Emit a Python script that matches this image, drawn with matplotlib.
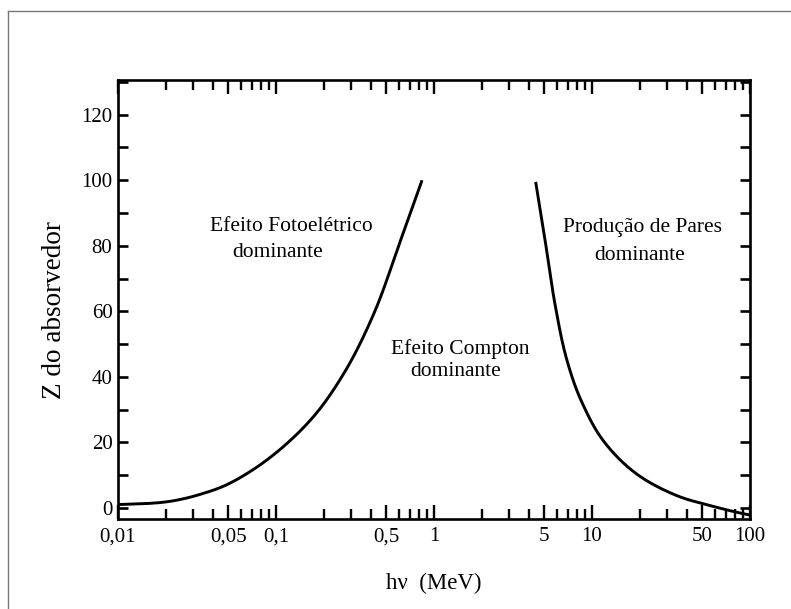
import matplotlib
matplotlib.use("Agg")
import matplotlib.pyplot as plt
import numpy as np
from matplotlib.ticker import FixedLocator, LogLocator, NullFormatter, MultipleLocator

# Data
pe_energy = [0.01, 0.015, 0.02, 0.025, 0.033, 0.049, 0.088, 0.166, 0.27, 0.418, 0.617, 0.84]
pe_z      = [1.0, 1.3, 1.8, 2.6, 4.1, 7.1, 14.7, 26.9, 41.2, 59.5, 81.9, 100.0]

pp_energy = [4.4, 5.0, 5.8, 6.9, 8.6, 12.0, 19.6, 35.0, 57.0, 80.0, 100.0]
pp_z      = [99.5, 83.0, 62.8, 45.5, 32.4, 20.0, 10.0, 3.6, 0.6, -1.2, -2.2]

x_ticks = [0.01, 0.05, 0.1, 0.5, 1, 5, 10, 50, 100]
x_tick_labels = ["0,01", "0,05", "0,1", "0,5", "1", "5", "10", "50", "100"]
y_ticks = [0, 20, 40, 60, 80, 100, 120]

labels = [
    ("Efeito Fotoelétrico", 0.274, 0.667),
    ("dominante", 0.252, 0.606),
    ("Efeito Compton", 0.541, 0.387),
    ("dominante", 0.535, 0.335),
    ("Produção de Pares", 0.830, 0.663),
    ("dominante", 0.826, 0.601),
]

plt.rcParams['font.family'] = ['Liberation Serif', 'DejaVu Serif']

fig = plt.figure(figsize=(7.91, 6.09), dpi=100)
ax = fig.add_axes([118/791, 1-519/609, 632/791, 439/609])


def smooth(xs, ys, n=40):
    """Centripetal Catmull-Rom through the read points (log-x, normalised)."""
    px = np.log10(xs) / 4.0
    py = np.asarray(ys, float) / 130.0
    P = np.column_stack([px, py])
    P = np.vstack([2 * P[0] - P[1], P, 2 * P[-1] - P[-2]])
    out = []
    for i in range(1, len(P) - 2):
        p0, p1, p2, p3 = P[i - 1], P[i], P[i + 1], P[i + 2]
        def tj(ti, a, b):
            return ti + np.linalg.norm(b - a) ** 0.5
        t0 = 0.0
        t1 = tj(t0, p0, p1)
        t2 = tj(t1, p1, p2)
        t3 = tj(t2, p2, p3)
        for t in np.linspace(t1, t2, n, endpoint=False):
            a1 = (t1 - t) / (t1 - t0) * p0 + (t - t0) / (t1 - t0) * p1
            a2 = (t2 - t) / (t2 - t1) * p1 + (t - t1) / (t2 - t1) * p2
            a3 = (t3 - t) / (t3 - t2) * p2 + (t - t2) / (t3 - t2) * p3
            b1 = (t2 - t) / (t2 - t0) * a1 + (t - t0) / (t2 - t0) * a2
            b2 = (t3 - t) / (t3 - t1) * a2 + (t - t1) / (t3 - t1) * a3
            c = (t2 - t) / (t2 - t1) * b1 + (t - t1) / (t2 - t1) * b2
            out.append(c)
    out.append(P[-2])
    out = np.array(out)
    return 10 ** (out[:, 0] * 4.0), out[:, 1] * 130.0


x1, y1 = smooth(pe_energy, pe_z)
x2, y2 = smooth(pp_energy, pp_z)
ax.plot(x1, y1, color='black', lw=2.1, solid_capstyle='butt')
ax.plot(x2, y2, color='black', lw=2.1, solid_capstyle='butt')

ax.set_xscale('log')
ax.set_xlim(0.01, 100)
ax.set_ylim(-3.4, 130.6)

ax.xaxis.set_major_locator(FixedLocator(x_ticks))
ax.set_xticklabels(x_tick_labels)
ax.xaxis.set_minor_locator(LogLocator(base=10, subs=np.arange(2, 10)))
ax.xaxis.set_minor_formatter(NullFormatter())
ax.yaxis.set_major_locator(FixedLocator(y_ticks))
ax.yaxis.set_minor_locator(MultipleLocator(10))

for s in ax.spines.values():
    s.set_linewidth(1.9)

ax.tick_params(axis='both', which='both', direction='in', top=True, right=True, color='black')
ax.tick_params(axis='x', which='major', length=10, width=1.7, labelsize=15, pad=6)
ax.tick_params(axis='x', which='minor', length=7.5, width=1.7)
ax.tick_params(axis='y', which='major', length=7.5, width=1.9, labelsize=15, pad=4)
ax.tick_params(axis='y', which='minor', length=7.5, width=1.9)

ax.set_xlabel("hν  (MeV)", fontsize=16.5, labelpad=19)
ax.set_ylabel("Z do absorvedor", fontsize=19.5)
ax.yaxis.set_label_coords(-0.081, 0.477)

for txt, x, y in labels:
    ax.text(x, y, txt, transform=ax.transAxes, ha='center', va='center', fontsize=15.5)

# scan border
fig.add_artist(plt.Line2D([8/791, 8/791], [0, 1-11/609], transform=fig.transFigure, color='#777777', lw=1.0))
fig.add_artist(plt.Line2D([8/791, 1], [1-11/609, 1-11/609], transform=fig.transFigure, color='#777777', lw=1.0))

fig.savefig("out.png", dpi=100)
